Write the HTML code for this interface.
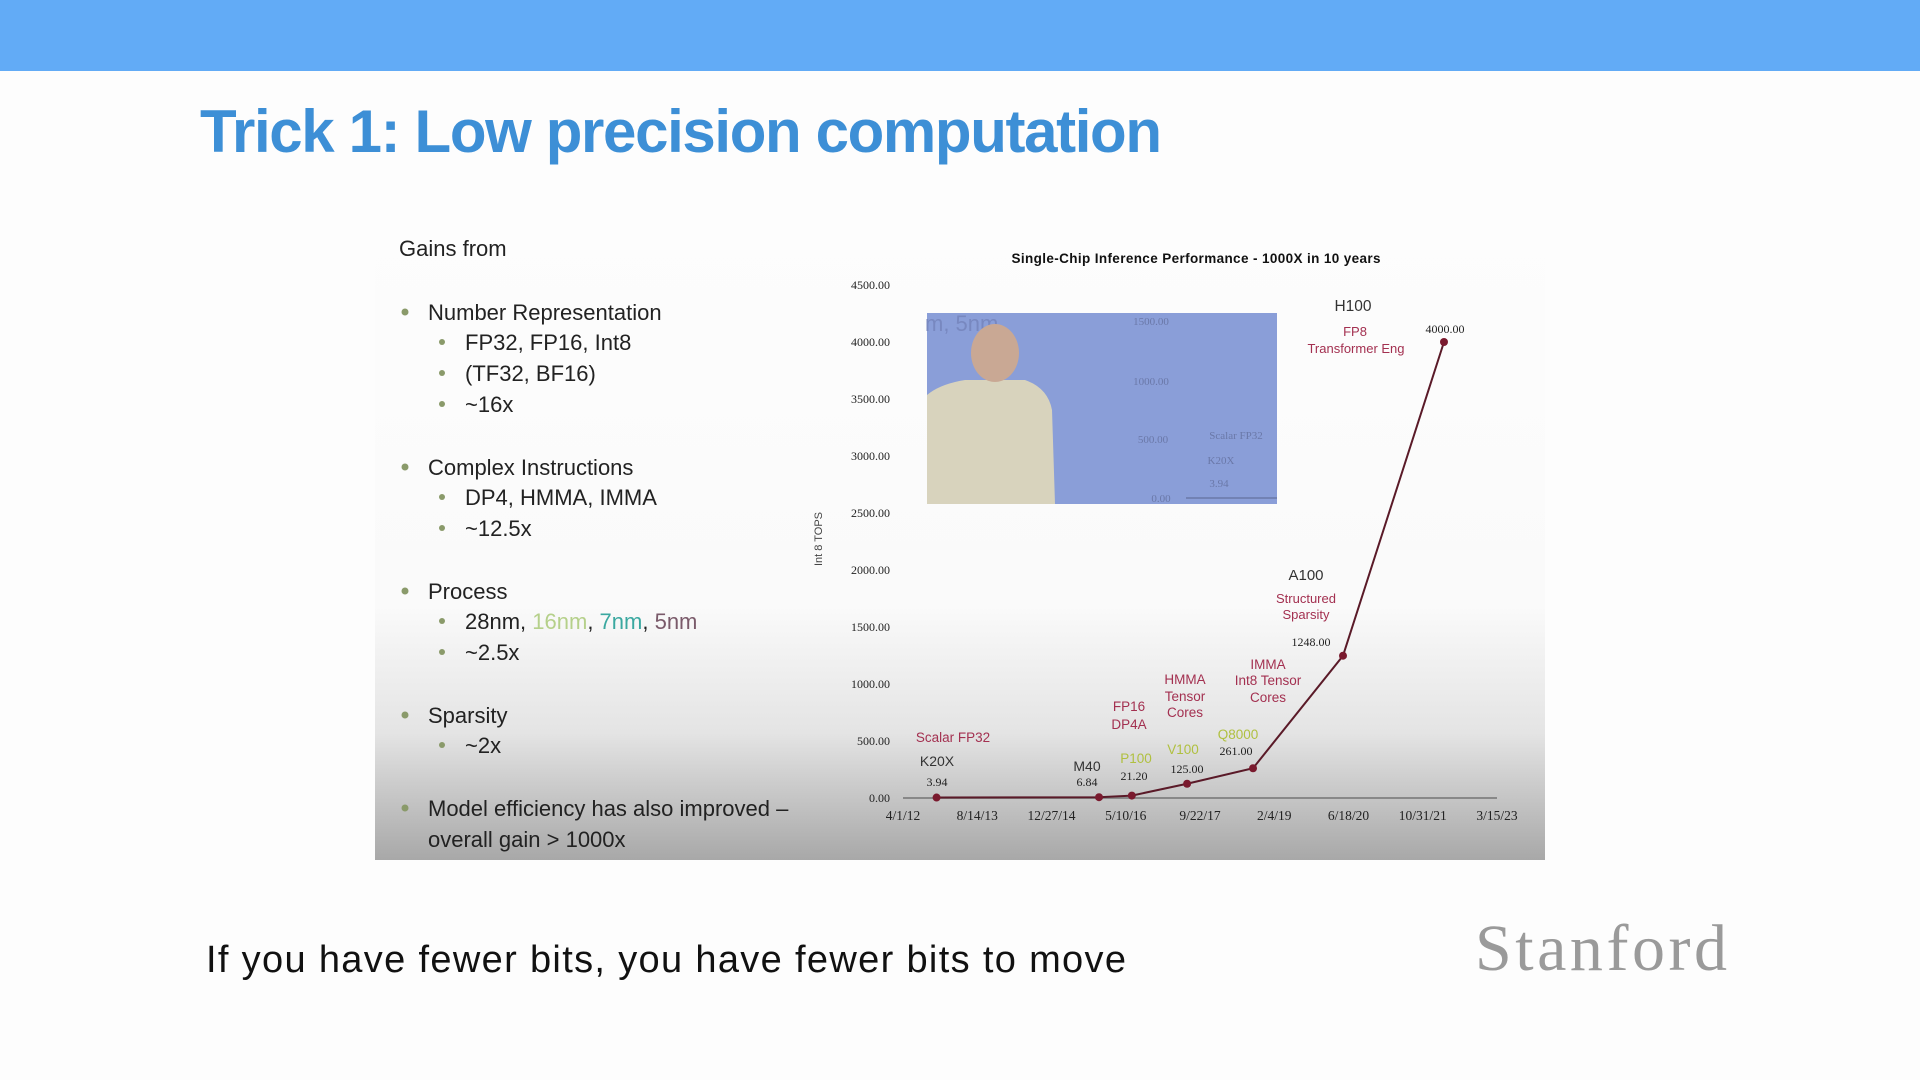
<!DOCTYPE html>
<html><head><meta charset="utf-8"><style>
html,body{margin:0;padding:0;background:#fdfdfd;}
svg{display:block;}
</style></head><body>
<svg width="1920" height="1080" viewBox="0 0 1920 1080" xmlns="http://www.w3.org/2000/svg" font-family="Liberation Sans, sans-serif">
<defs>
<linearGradient id="pg" x1="0" y1="0" x2="0" y2="1">
<stop offset="0" stop-color="#fdfdfd"/><stop offset="0.6" stop-color="#fafafa"/><stop offset="0.8" stop-color="#e4e4e4"/><stop offset="1" stop-color="#a8a8a8"/>
</linearGradient>
</defs>
<rect x="0" y="0" width="1920" height="1080" fill="#fdfdfd"/>
<rect x="0" y="0" width="1920" height="71" fill="#62abf6"/>
<text x="200" y="152" font-size="60" font-weight="bold" fill="#3d8fd6" textLength="962">Trick 1: Low precision computation</text>

<rect x="375" y="225" width="1170" height="635" fill="url(#pg)"/>

<g fill="#222" font-size="22">
<text x="399" y="256">Gains from</text>
<g fill="#8a9a6a">
<circle cx="405" cy="312" r="3.5"/><circle cx="442" cy="342" r="3"/><circle cx="442" cy="373" r="3"/><circle cx="442" cy="404" r="3"/>
<circle cx="405" cy="467" r="3.5"/><circle cx="442" cy="497" r="3"/><circle cx="442" cy="528" r="3"/>
<circle cx="405" cy="591" r="3.5"/><circle cx="442" cy="621" r="3"/><circle cx="442" cy="652" r="3"/>
<circle cx="405" cy="715" r="3.5"/><circle cx="442" cy="745" r="3"/>
<circle cx="405" cy="808" r="3.5"/>
</g>
<text x="428" y="320">Number Representation</text>
<text x="465" y="350">FP32, FP16, Int8</text>
<text x="465" y="381">(TF32, BF16)</text>
<text x="465" y="412">~16x</text>
<text x="428" y="475">Complex Instructions</text>
<text x="465" y="505">DP4, HMMA, IMMA</text>
<text x="465" y="536">~12.5x</text>
<text x="428" y="599">Process</text>
<text x="465" y="629">28nm, <tspan fill="#b5d08a">16nm</tspan>, <tspan fill="#3aa8a0">7nm</tspan>, <tspan fill="#7a5a6a">5nm</tspan></text>
<text x="465" y="660">~2.5x</text>
<text x="428" y="723">Sparsity</text>
<text x="465" y="753">~2x</text>
<text x="428" y="816">Model efficiency has also improved –</text>
<text x="428" y="847">overall gain &gt; 1000x</text>
</g>

<g id="chart"></g>

<text x="206" y="972" font-size="38" fill="#111" textLength="920">If you have fewer bits, you have fewer bits to move</text>
<text x="1475" y="970" font-size="66" font-family="Liberation Serif, serif" fill="#9a9a9a" textLength="252">Stanford</text>
</svg>
<script>
const yTicks = [0,500,1000,1500,2000,2500,3000,3500,4000,4500];
const xTickLabels = ["4/1/12","8/14/13","12/27/14","5/10/16","9/22/17","2/4/19","6/18/20","10/31/21","3/15/23"];
const chipNames = ["K20X","M40","P100","V100","Q8000","A100","H100"];
const daysSinceStart = [226,1320,1541,1913,2357,2963,3643];
const topsValues = [3.94,6.84,21.2,125,261,1248,4000];
const valueLabels = ["3.94","6.84","21.20","125.00","261.00","1248.00","4000.00"];

const NS="http://www.w3.org/2000/svg";
const g=document.getElementById('chart');
const X0=903,X1=1497,Y0=798,Y1=285;
const xs=d=>X0+(d/4000)*(X1-X0);
const ys=v=>Y0-(v/4500)*(Y0-Y1);
function mk(tag,attrs,txt){const e=document.createElementNS(NS,tag);for(const k in attrs)e.setAttribute(k,attrs[k]);if(txt!==undefined)e.textContent=txt;g.appendChild(e);return e;}

let t=mk('text',{x:1196,y:263,'font-size':13.5,'font-weight':'bold','text-anchor':'middle',fill:'#111',textLength:369},'Single-Chip Inference Performance - 1000X in 10 years');


t=mk('text',{x:0,y:0,'font-size':11,'text-anchor':'middle',fill:'#444',transform:'translate(822,539) rotate(-90)'},'Int 8 TOPS');



yTicks.forEach(v=>{
  const e=mk('text',{x:890,y:ys(v)+4,'font-size':12,'font-family':'Liberation Serif, serif','text-anchor':'end',fill:'#222'},v.toFixed(2));
  
  
});
xTickLabels.forEach((s,i)=>{
  const e=mk('text',{x:xs(i*500),y:820,'font-size':13.5,'font-family':'Liberation Serif, serif','text-anchor':'middle',fill:'#222'},s);
  
  
});
let ax=mk('line',{x1:X0,y1:Y0,x2:X1,y2:Y0,stroke:'#888','stroke-width':2});



// video inset
let vr=mk('rect',{x:927,y:313,width:350,height:191,fill:'#8a9ed8'});


let vt=mk('text',{x:925,y:331,'font-size':22,fill:'#7888c0'},'m, 5nm');


let vp=mk('path',{d:'M927 504 L927 395 Q940 384 965 380 L1025 380 Q1048 388 1052 410 L1055 504 Z',fill:'#d8d3bd'});


let vh=mk('ellipse',{cx:995,cy:353,rx:24,ry:29,fill:'#c9a894'});


[['1500.00',1151,321],['1000.00',1151,381],['500.00',1153,439],['0.00',1161,498],['Scalar FP32',1236,435],['K20X',1221,460],['3.94',1219,483]].forEach(a=>{
  const e=mk('text',{x:a[1],y:a[2]+4,'font-size':11,'font-family':'Liberation Serif, serif','text-anchor':'middle',fill:'#6a78a8'},a[0]);
  
  
});
let il=mk('line',{x1:1186,y1:498,x2:1277,y2:498,stroke:'#6a78a8','stroke-width':1.5});



let pts=daysSinceStart.map((d,i)=>xs(d)+','+ys(topsValues[i])).join(' ');
let pl=mk('polyline',{points:pts,fill:'none',stroke:'#5a1a28','stroke-width':2});


daysSinceStart.forEach((d,i)=>{
  const c=mk('circle',{cx:xs(d),cy:ys(topsValues[i]),r:4,fill:'#7a1a2e'});
  
  
});

const red='#a33050',grn='#b0c040',dk='#333';
const ann=[
 ['H100',1353,306,15.5,dk],['FP8',1355,331,13,red],['Transformer Eng',1356,348,13,red],
 ['A100',1306,575,15,dk],['Structured',1306,598,13,red],['Sparsity',1306,614,13,red],
 ['IMMA',1268,664,13.5,red],['Int8 Tensor',1268,680,13.5,red],['Cores',1268,697,13.5,red],
 ['HMMA',1185,679,13.5,red],['Tensor',1185,696,13.5,red],['Cores',1185,712,13.5,red],
 ['FP16',1129,706,13.5,red],['DP4A',1129,724,13.5,red],
 ['Q8000',1238,734,13.5,grn],['V100',1183,749,13.5,grn],['P100',1136,758,13.5,grn],
 ['M40',1087,766,14,dk],['Scalar FP32',953,737,13.5,red],['K20X',937,761,14,dk]
];
ann.forEach(a=>{
  const e=mk('text',{x:a[1],y:a[2]+5,'font-size':a[3],'text-anchor':'middle',fill:a[4]},a[0]);
  
  
});
const valPos=[[937,782],[1087,782],[1134,776],[1187,769],[1236,751],[1311,642],[1445,329]];
valueLabels.forEach((s,i)=>{
  const e=mk('text',{x:valPos[i][0],y:valPos[i][1]+4,'font-size':12,'font-family':'Liberation Serif, serif','text-anchor':'middle',fill:'#222'},s);
  
  
});
</script>
</body></html>
